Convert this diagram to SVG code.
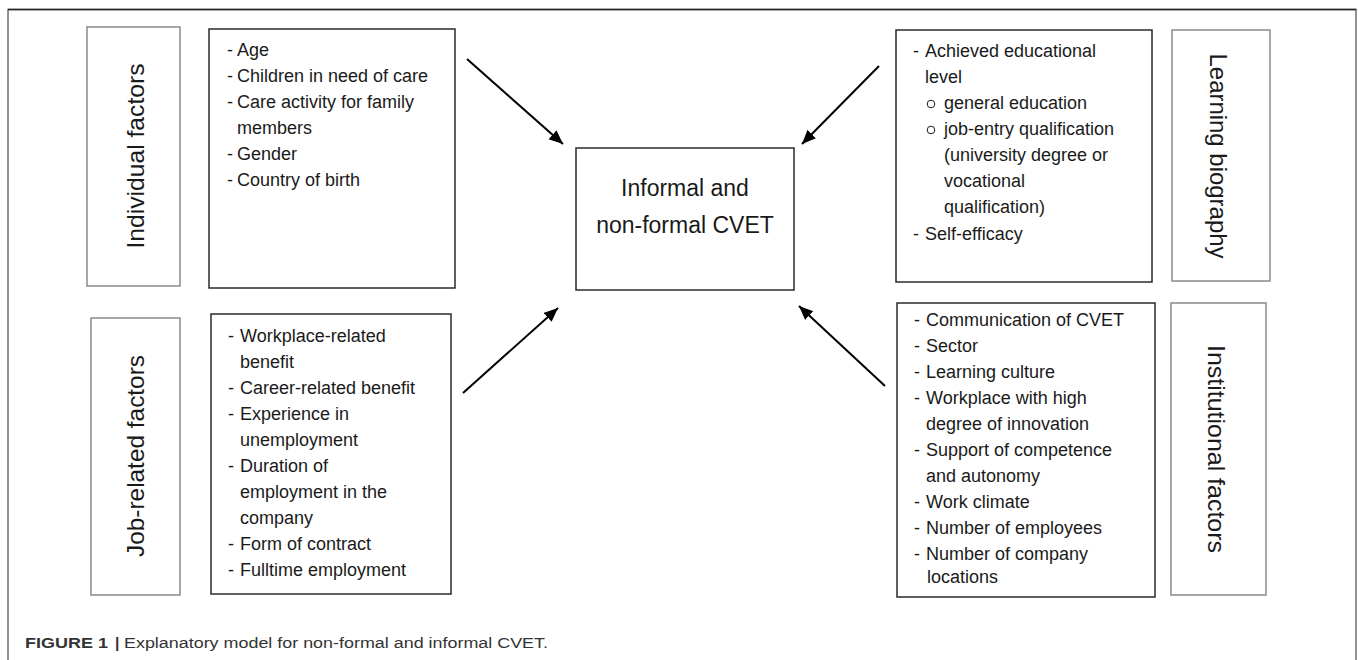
<svg xmlns="http://www.w3.org/2000/svg" width="1358" height="660" viewBox="0 0 1358 660">
<style>
  .frame{fill:none;stroke:#6e6e6e;stroke-width:1.5}
  .lbl{fill:#fff;stroke:#8a8a8a;stroke-width:1.5}
  .box{fill:#fff;stroke:#2a2a2a;stroke-width:1.5}
  .t{font-family:"Liberation Sans",Arial,sans-serif;font-size:18px;fill:#1a1a1a}
  .lt{font-family:"Liberation Sans",Arial,sans-serif;font-size:24.5px;fill:#1a1a1a;text-anchor:middle}
  .ct{font-family:"Liberation Sans",Arial,sans-serif;font-size:23px;fill:#1a1a1a;text-anchor:middle}
  .cap{font-family:"Liberation Sans Narrow","Liberation Sans",Arial,sans-serif;font-size:15.5px;fill:#333}
  .arr{stroke:#000;stroke-width:2;fill:none;marker-end:url(#ah)}
</style>
<defs>
  <marker id="ah" markerUnits="userSpaceOnUse" markerWidth="16" markerHeight="14" refX="14" refY="6" orient="auto">
    <path d="M0,0 L14,6 L0,12 Z" fill="#000"/>
  </marker>
</defs>
<rect width="1358" height="660" fill="#fff"/>
<path class="frame" d="M8,670 L8,9.5 L1356,9.5 L1356,670"/>
<line x1="8" y1="9.5" x2="1356" y2="9.5" stroke="#222" stroke-width="1.5"/>

<g id="individual-label">
  <rect class="lbl" x="87" y="27" width="93" height="259"/>
  <text class="lt" transform="translate(144,156) rotate(-90)" textLength="185" lengthAdjust="spacingAndGlyphs">Individual factors</text>
</g>
<g id="individual-items">
  <rect class="box" x="209" y="29" width="246" height="259"/>
  <text class="t" x="227" y="56">-</text><text class="t" x="237" y="56">Age</text>
  <text class="t" x="227" y="82">-</text><text class="t" x="237" y="82">Children in need of care</text>
  <text class="t" x="227" y="108">-</text><text class="t" x="237" y="108">Care activity for family</text>
  <text class="t" x="237" y="134">members</text>
  <text class="t" x="227" y="160">-</text><text class="t" x="237" y="160">Gender</text>
  <text class="t" x="227" y="186">-</text><text class="t" x="237" y="186">Country of birth</text>
</g>

<g id="job-label">
  <rect class="lbl" x="91" y="318" width="89" height="277"/>
  <text class="lt" transform="translate(144,456) rotate(-90)" textLength="202" lengthAdjust="spacingAndGlyphs">Job-related factors</text>
</g>
<g id="job-items">
  <rect class="box" x="211" y="314" width="240" height="280"/>
  <text class="t" x="228" y="342">-</text><text class="t" x="240" y="342">Workplace-related</text>
  <text class="t" x="240" y="368">benefit</text>
  <text class="t" x="228" y="394">-</text><text class="t" x="240" y="394">Career-related benefit</text>
  <text class="t" x="228" y="420">-</text><text class="t" x="240" y="420">Experience in</text>
  <text class="t" x="240" y="446">unemployment</text>
  <text class="t" x="228" y="472">-</text><text class="t" x="240" y="472">Duration of</text>
  <text class="t" x="240" y="498">employment in the</text>
  <text class="t" x="240" y="524">company</text>
  <text class="t" x="228" y="550">-</text><text class="t" x="240" y="550">Form of contract</text>
  <text class="t" x="228" y="576">-</text><text class="t" x="240" y="576">Fulltime employment</text>
</g>

<g id="center">
  <rect class="box" x="576" y="148" width="218" height="142"/>
  <text class="ct" x="685" y="196">Informal and</text>
  <text class="ct" x="685" y="233">non-formal CVET</text>
</g>

<g id="learning-items">
  <rect class="box" x="896" y="30" width="256" height="252"/>
  <text class="t" x="913" y="57">-</text><text class="t" x="925" y="57">Achieved educational</text>
  <text class="t" x="925" y="83">level</text>
  <circle cx="931" cy="104" r="3.8" fill="none" stroke="#1a1a1a" stroke-width="1"/><text class="t" x="944" y="109">general education</text>
  <circle cx="931" cy="130" r="3.8" fill="none" stroke="#1a1a1a" stroke-width="1"/><text class="t" x="944" y="135">job-entry qualification</text>
  <text class="t" x="944" y="161">(university degree or</text>
  <text class="t" x="944" y="187">vocational</text>
  <text class="t" x="944" y="213">qualification)</text>
  <text class="t" x="913" y="240">-</text><text class="t" x="925" y="240">Self-efficacy</text>
</g>
<g id="learning-label">
  <rect class="lbl" x="1172" y="30" width="98" height="251"/>
  <text class="lt" transform="translate(1210,156) rotate(90)" textLength="205" lengthAdjust="spacingAndGlyphs">Learning biography</text>
</g>

<g id="institutional-items">
  <rect class="box" x="897" y="303" width="258" height="294"/>
  <text class="t" x="914" y="326">-</text><text class="t" x="926" y="326">Communication of CVET</text>
  <text class="t" x="914" y="352">-</text><text class="t" x="926" y="352">Sector</text>
  <text class="t" x="914" y="378">-</text><text class="t" x="926" y="378">Learning culture</text>
  <text class="t" x="914" y="404">-</text><text class="t" x="926" y="404">Workplace with high</text>
  <text class="t" x="926" y="430">degree of innovation</text>
  <text class="t" x="914" y="456">-</text><text class="t" x="926" y="456">Support of competence</text>
  <text class="t" x="926" y="482">and autonomy</text>
  <text class="t" x="914" y="508">-</text><text class="t" x="926" y="508">Work climate</text>
  <text class="t" x="914" y="534">-</text><text class="t" x="926" y="534">Number of employees</text>
  <text class="t" x="914" y="560">-</text><text class="t" x="926" y="560">Number of company</text>
  <text class="t" x="927" y="583">locations</text>
</g>
<g id="institutional-label">
  <rect class="lbl" x="1171" y="303" width="95" height="292"/>
  <text class="lt" transform="translate(1208,449) rotate(90)" textLength="208" lengthAdjust="spacingAndGlyphs">Institutional factors</text>
</g>

<g id="connectors">
  <line class="arr" x1="467" y1="59" x2="563" y2="144"/>
  <line class="arr" x1="879" y1="66" x2="802" y2="144"/>
  <line class="arr" x1="463" y1="393" x2="558" y2="308"/>
  <line class="arr" x1="885" y1="386" x2="799" y2="306"/>
</g>

<g id="caption">
  <text class="cap" x="25" y="648" font-weight="bold" fill="#222" textLength="83" lengthAdjust="spacingAndGlyphs">FIGURE 1</text>
  <text class="cap" x="115" y="648" font-weight="bold" fill="#222">|</text>
  <text class="cap" x="124" y="648" textLength="424" lengthAdjust="spacingAndGlyphs">Explanatory model for non-formal and informal CVET.</text>
</g>
</svg>
